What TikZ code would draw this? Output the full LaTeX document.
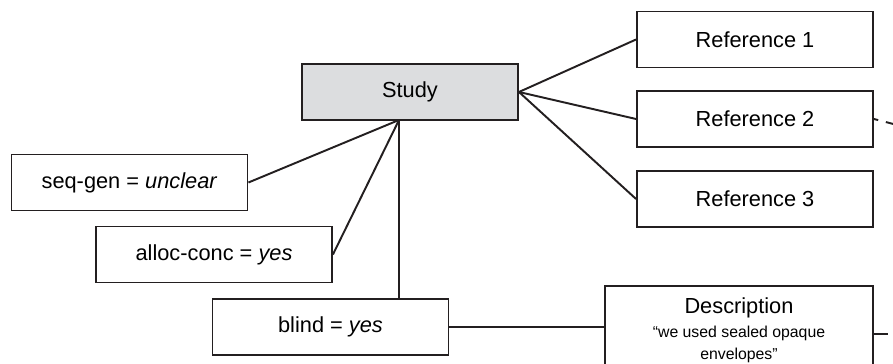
\documentclass[tikz,border=0pt]{standalone}
\usepackage{fontspec}
\setmainfont{Liberation Sans}
\usetikzlibrary{arrows}

\begin{document}
\begin{tikzpicture}[x=0.02cm,y=-0.02cm]

\tikzset{box/.style = {shape=rectangle,draw=line,line width=1.1pt,fill=white,minimum width=4.72cm,minimum height=1.12cm,font=\fontsize{12.4}{15}\selectfont}}
\tikzset{study/.style = {box,fill=studygray,minimum width=4.32cm}}
\tikzset{edge/.style = {draw=line,line width=1.1pt}}
\tikzset{link/.style = {edge,dash pattern=on 8pt off 5pt}}
\definecolor{line}{HTML}{231F20}
\definecolor{studygray}{HTML}{DCDDDF}
\clip (0,0) rectangle (893,364);
% vertices
\node[study] (study) at (410,92) {Study};
\node[box] (ref1) at (755,39.5) {Reference 1};
\node[box] (ref2) at (755,119) {Reference 2};
\node[box] (ref3) at (755,199) {Reference 3};
\node[box] (seqgen) at (129.5,182.5) {seq-gen = \textit{unclear}};
\node[box] (alloc) at (214,254.5) {alloc-conc = \textit{yes}};
\node[box] (blind) at (330.5,327) {blind = \textit{yes}};
\node[box,anchor=north,minimum width=5.36cm,minimum height=1.76cm,align=center] (desc) at (739,285)
  {Description\\[-1pt]{\fontsize{9}{11.3}\selectfont “we used sealed opaque}\\[-3pt]{\fontsize{9}{11.3}\selectfont envelopes”}};
\coordinate (hub) at (399,120);
\coordinate (ref2out) at (905,127);
\coordinate (descout) at (905,334);
%edges
\draw[edge] (study.east) to (ref1.west);
\draw[edge] (study.east) to (ref2.west);
\draw[edge] (study.east) to (ref3.west);
\draw[edge] (hub) to (seqgen.east);
\draw[edge] (hub) to (alloc.east);
\draw[edge] (hub) to (hub |- blind.north);
\draw[edge] (blind.east) to (blind.east -| desc.west);
\draw[link,dash pattern=on 2.5pt off 4.5pt on 8pt off 5pt] (ref2.east) to (ref2out);
\draw[link] (desc.east |- descout) to (descout);
\end{tikzpicture}
\end{document}
